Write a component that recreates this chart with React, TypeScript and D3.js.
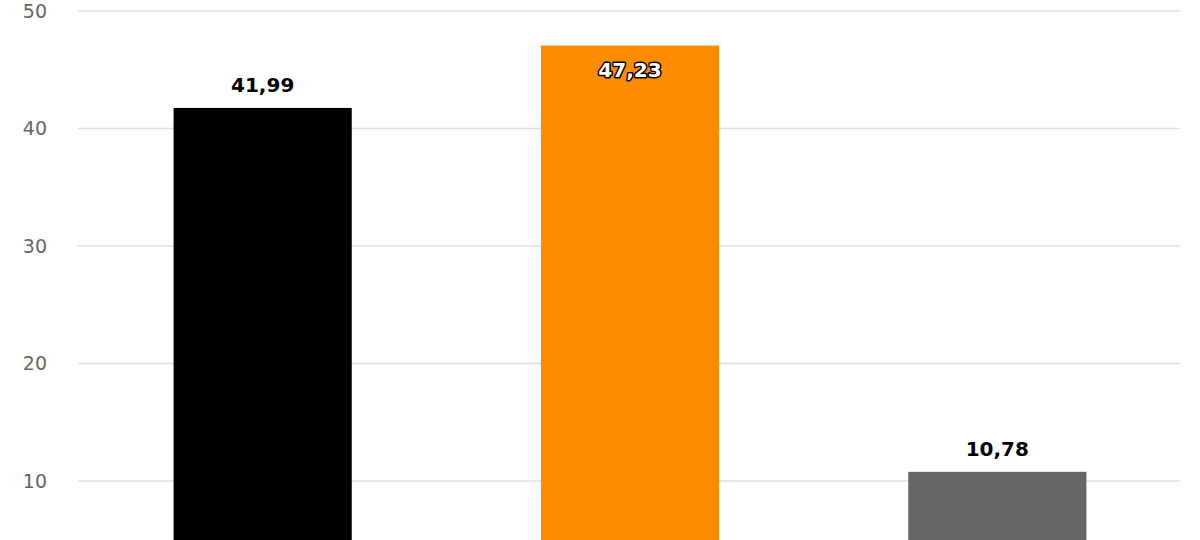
import React from "react";
import * as d3 from "d3";

const categories = ["A", "B", "C"];
// bar heights
const values = [41.75, 47.06, 10.78];
const labels = ["41,99", "47,23", "10,78"];
const colors = ["#000000", "#FF8C00", "#666666"];
const yTicks = [10, 20, 30, 40, 50];

const W = 1200;
const H = 540;

export default function App() {
  const x = d3
    .scaleBand<string>()
    .domain(categories)
    .range([79, 1181])
    .paddingInner(0.515)
    .paddingOuter(0.2575);
  const y = d3.scaleLinear().domain([0, 50]).range([598.5, 11]);
  const font = "'DejaVu Sans', sans-serif";
  return (
    <svg
      width={W}
      height={H}
      style={{ position: "absolute", left: 0, top: 0, background: "#fff" }}
      fontFamily={font}
    >
      {yTicks.map((t) => (
        <g key={t}>
          <line x1={78} x2={1180} y1={y(t)} y2={y(t)} stroke="#e0e0e0" strokeWidth={1.5} />
          <text x={47} y={y(t)} dy="0.36em" textAnchor="end" fontSize={19} fill="#666666">
            {t}
          </text>
        </g>
      ))}
      {categories.map((c, i) => (
        <rect
          key={c}
          x={x(c)}
          y={y(values[i])}
          width={x.bandwidth()}
          height={y(0) - y(values[i])}
          fill={colors[i]}
        />
      ))}
      {categories.map((c, i) => {
        const cx = (x(c) as number) + x.bandwidth() / 2;
        const inside = y(values[i]) - 40 < 11;
        const ty = inside ? y(values[i]) + 31 : y(values[i]) - 16;
        return inside ? (
          <text
            key={c}
            x={cx}
            y={ty}
            textAnchor="middle"
            fontSize={20}
            fontWeight="bold"
            fill="#ffffff"
            stroke="#000000"
            strokeWidth={3}
            strokeLinejoin="round"
            paintOrder="stroke"
          >
            {labels[i]}
          </text>
        ) : (
          <text key={c} x={cx} y={ty} textAnchor="middle" fontSize={20} fontWeight="bold" fill="#000000">
            {labels[i]}
          </text>
        );
      })}
    </svg>
  );
}
